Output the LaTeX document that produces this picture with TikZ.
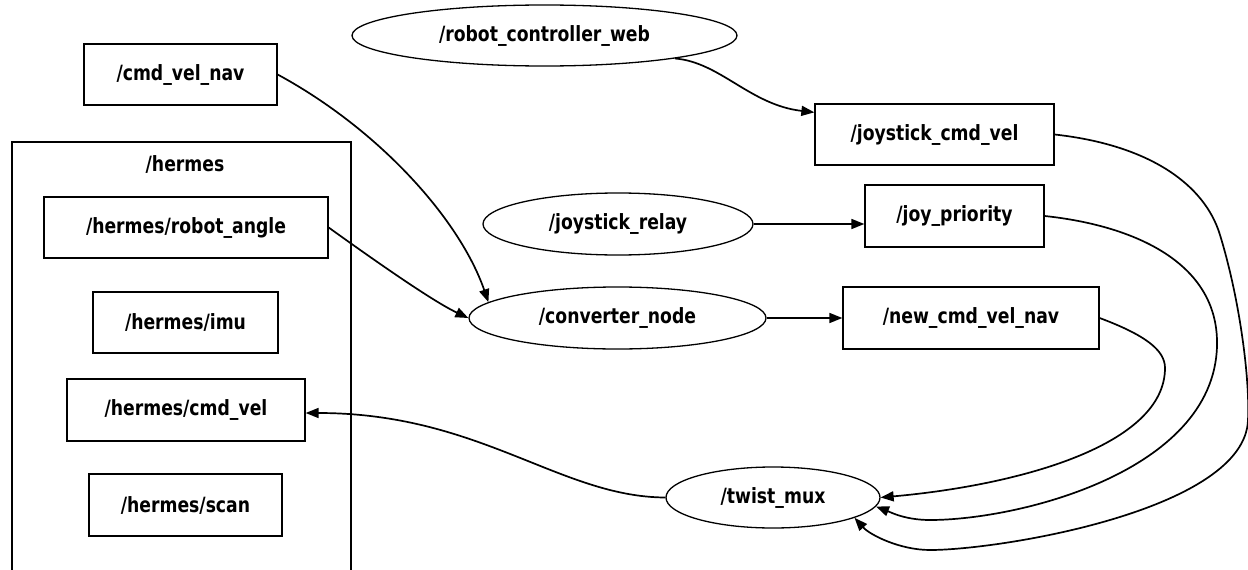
\documentclass[tikz,border=0pt]{standalone}
\usepackage{fontspec}
\setmainfont{DejaVu Sans}[FakeStretch=0.82]
\usetikzlibrary{shapes.geometric,arrows.meta}
\newcommand{\lbl}{\bfseries\fontsize{21}{24}\selectfont}
\begin{document}
\begin{tikzpicture}[x=1pt,y=-1pt,
  box/.style={draw, line width=1.3pt, rectangle, inner sep=0pt, font=\lbl},
  oval/.style={draw, line width=1.3pt, ellipse, inner sep=0pt, font=\lbl},
  edge/.style={line width=1.7pt, -{Triangle[length=13pt,width=10pt]}}]
\useasboundingbox (0,0) rectangle (1248,570);
\begin{scope}
  \clip (0,0) rectangle (1248,570);
  \draw[line width=1.3pt] (12,142) rectangle (351,590);
\end{scope}
\node[font=\lbl] (hermes) at (185,164) {/hermes};

\node[box, minimum width=193pt, minimum height=61pt] (cmdnav) at (180.5,74.5) {/cmd\_vel\_nav};
\node[box, minimum width=284pt, minimum height=61pt] (angle) at (186,227.5) {/hermes/robot\_angle};
\node[box, minimum width=185pt, minimum height=61pt] (imu) at (185.5,322.5) {/hermes/imu};
\node[box, minimum width=238pt, minimum height=62pt] (hcmd) at (186,410) {/hermes/cmd\_vel};
\node[box, minimum width=193pt, minimum height=62pt] (hscan) at (185.5,505) {/hermes/scan};

\node[oval, minimum width=385pt, minimum height=61pt] (rcw) at (544.5,35.5) {/robot\_controller\_web};
\node[oval, minimum width=270pt, minimum height=62pt] (jrelay) at (618,224) {/joystick\_relay};
\node[oval, minimum width=297pt, minimum height=62pt] (conv) at (617.5,318) {/converter\_node};
\node[oval, minimum width=214pt, minimum height=61pt] (twist) at (773,497.5) {/twist\_mux};

\node[box, minimum width=239pt, minimum height=61pt] (jcv) at (934.5,134.5) {/joystick\_cmd\_vel};
\node[box, minimum width=179pt, minimum height=62pt] (jprio) at (954.5,216) {/joy\_priority};
\node[box, minimum width=256pt, minimum height=62pt] (newnav) at (971,318) {/new\_cmd\_vel\_nav};

% edges
\draw[edge] (cmdnav.east) .. controls (380,130) and (460,220) .. (conv.173);
\draw[edge] (angle.east) .. controls (360,250) and (430,300) .. (conv.west);
\draw[edge] (rcw.-10) .. controls (720,62) and (750,105) .. ([yshift=-9pt]jcv.north west);
\draw[edge] (jrelay.east) -- (jrelay.east -| jprio.west);
\draw[edge] (conv.east) -- (newnav.west);
\draw[edge] (twist.west) .. controls (560,497) and (480,413) .. ([yshift=-3pt]hcmd.east);
\draw[edge] (newnav.east) .. controls (1145,335) and (1165,350) .. (1165,368)
  .. controls (1165,445) and (1020,485) .. (twist.east);
\draw[edge] (jprio.east) .. controls (1130,225) and (1215,260) .. (1217,340)
  .. controls (1220,470) and (1020,520) .. (930,520)
  .. controls (905,520) and (890,512) .. (twist.-5);
\draw[edge] (jcv.east) .. controls (1150,145) and (1205,185) .. (1220,235)
  .. controls (1240,300) and (1250,380) .. (1248,420)
  .. controls (1245,510) and (1000,550) .. (930,550)
  .. controls (900,550) and (870,535) .. (twist.-14);
\end{tikzpicture}
\end{document}
